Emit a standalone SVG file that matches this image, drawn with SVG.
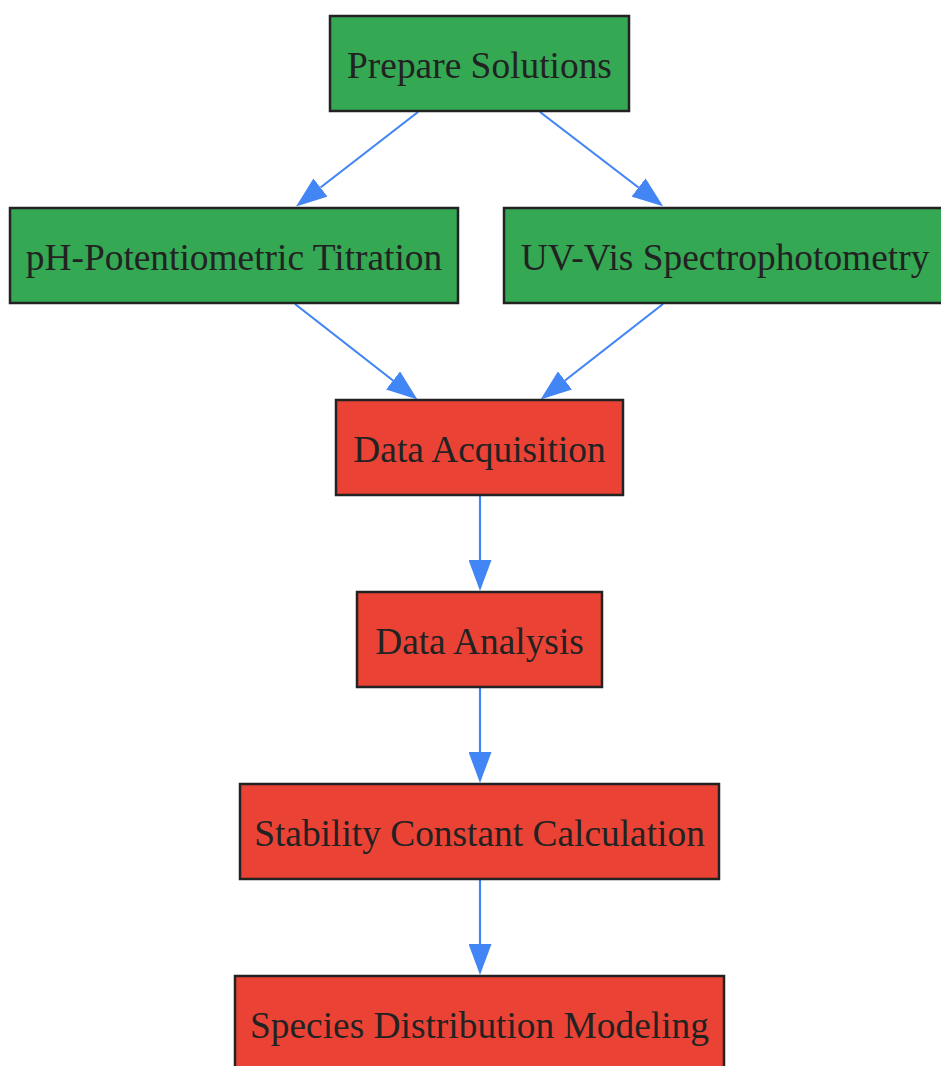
<svg xmlns="http://www.w3.org/2000/svg" width="941" height="1066" viewBox="0 0 941 1066">
<style>
.node rect{stroke:#222;stroke-width:2.5}
.g rect{fill:#34A853}
.r rect{fill:#EA4335}
.node text{font-family:"Liberation Serif","Times New Roman",serif;font-size:37.4px;fill:#222;text-anchor:middle}
.edge{fill:none;stroke:#4285F4;stroke-width:2.2}
</style>
<defs>
<marker id="ah" markerUnits="userSpaceOnUse" markerWidth="31" markerHeight="23" refX="0" refY="11.5" orient="auto" viewBox="0 0 31 23">
<path d="M0,0 L31,11.5 L0,23 z" fill="#4285F4"/>
</marker>
</defs>
<rect width="941" height="1066" fill="#fff"/>
<g id="connectors">
<path class="edge" d="M418,112 L320.5,187.5" marker-end="url(#ah)"/>
<path class="edge" d="M540,112 L638.5,187.5" marker-end="url(#ah)"/>
<path class="edge" d="M295,304 L393,380.5" marker-end="url(#ah)"/>
<path class="edge" d="M663,304 L565,380.5" marker-end="url(#ah)"/>
<path class="edge" d="M480,496 L480,560" marker-end="url(#ah)"/>
<path class="edge" d="M480,688 L480,752" marker-end="url(#ah)"/>
<path class="edge" d="M480,880 L480,944" marker-end="url(#ah)"/>
</g>
<g id="prepare" class="node g">
<rect x="330" y="16" width="299" height="95"/>
<text x="479.5" y="78">Prepare Solutions</text>
</g>
<g id="ph" class="node g">
<rect x="10" y="208" width="448" height="95"/>
<text x="234" y="270">pH-Potentiometric Titration</text>
</g>
<g id="uvvis" class="node g">
<rect x="504" y="208" width="442" height="95"/>
<text x="725" y="270">UV-Vis Spectrophotometry</text>
</g>
<g id="acq" class="node r">
<rect x="336" y="400" width="287" height="95"/>
<text x="479.5" y="462">Data Acquisition</text>
</g>
<g id="analysis" class="node r">
<rect x="357" y="592" width="245" height="95"/>
<text x="479.5" y="654">Data Analysis</text>
</g>
<g id="stability" class="node r">
<rect x="240" y="784" width="479" height="95"/>
<text x="479.5" y="846">Stability Constant Calculation</text>
</g>
<g id="species" class="node r">
<rect x="235" y="976" width="489" height="95"/>
<text x="479.5" y="1038">Species Distribution Modeling</text>
</g>
</svg>
